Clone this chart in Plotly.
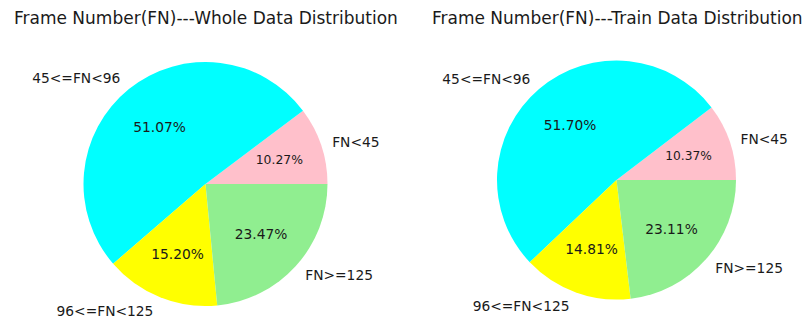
import plotly.graph_objects as go

labels = ["FN<45", "45<=FN<96", "96<=FN<125", "FN>=125"]
whole_pct = [10.27, 51.07, 15.20, 23.47]
train_pct = [10.37, 51.70, 14.81, 23.11]
colors = ["pink", "cyan", "yellow", "lightgreen"]
titles = [
    "Frame Number(FN)---Whole Data Distribution",
    "Frame Number(FN)---Train Data Distribution",
]

FONT = "DejaVu Sans, Arial, sans-serif"
INK = "#1a1a1a"
W, H = 810, 323
OFF = 8  # the page body adds an 8px margin around the plot div

# pie centre and radius, in picture pixels (left pie / right pie)
pies = [(205.5, 184, 122), (616.5, 180, 119.5)]

# Transparent overlay pies carry the percentages so each lands near 0.6 of the
# radius (matplotlib's pctdistance). Plotly centres inside text on the slice's
# inscribed circle, so each slice group gets its own overlay size / hole.
#   (slice indices, radius factor, hole)
PCT_LAYERS = [
    ([1], 1.2, 0),        # big slice: inscribed circle centre at r/2
    ([0], 0.84, 0),       # thin slice
    ([2, 3], 0.86, 0.43),
]


def box(cx, cy, r):
    cx, cy = cx - OFF, cy - OFF
    return dict(x=[(cx - r) / W, (cx + r) / W], y=[1 - (cy + r) / H, 1 - (cy - r) / H])


def pie(values, dom, rot, **kw):
    return go.Pie(
        labels=labels,
        values=values,
        domain=dom,
        sort=False,
        direction="counterclockwise",
        rotation=rot,
        showlegend=False,
        hoverinfo="skip",
        **kw,
    )


clear = dict(colors=["rgba(0,0,0,0)"] * 4, line=dict(width=0))
txt_font = dict(size=13.8, color=INK, family=FONT)

fig = go.Figure()
for values, (cx, cy, r) in zip([whole_pct, train_pct], pies):
    # plotly keeps the first ccw slice clockwise of `rotation`, so start it at 3 o'clock
    rot = 90 - values[0] / sum(values) * 360
    fig.add_trace(pie(values, box(cx, cy, r), rot,
                      marker=dict(colors=colors, line=dict(width=0)), textinfo="none"))
    for idx, k, hole in PCT_LAYERS:
        pct_text = [f"{v:.2f}%" if i in idx else "" for i, v in enumerate(values)]
        fig.add_trace(pie(values, box(cx, cy, r * k), rot, hole=hole, marker=clear,
                          text=pct_text, textinfo="text", textposition="inside",
                          insidetextorientation="horizontal", textfont=txt_font))
    fig.add_trace(pie(values, box(cx, cy, r * 1.06), rot, marker=clear,
                      texttemplate="%{label}", textposition="outside", textfont=txt_font))

for title, xc in zip(titles, [206, 617]):
    fig.add_annotation(
        text=title,
        x=(xc - OFF) / W,
        y=1 - (18 - OFF) / H,
        xref="paper",
        yref="paper",
        xanchor="center",
        yanchor="middle",
        showarrow=False,
        font=dict(size=17, color=INK, family=FONT),
    )

fig.update_layout(
    width=W,
    height=H,
    margin=dict(l=0, r=0, t=0, b=0),
    paper_bgcolor="white",
    plot_bgcolor="white",
    font=dict(family=FONT, color=INK),
)

fig.write_html("out.html")
